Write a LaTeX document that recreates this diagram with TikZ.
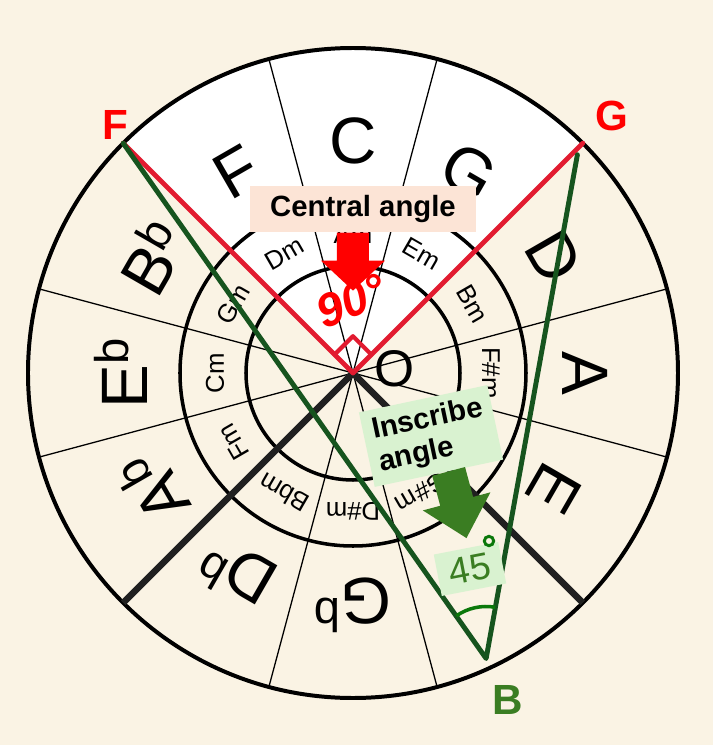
\documentclass[tikz,border=0pt]{standalone}
\usepackage{fontspec}
\setmainfont{Liberation Sans}
\usetikzlibrary{calc}
\definecolor{Cream}{RGB}{250,243,228}
\definecolor{ChordRed}{RGB}{226,27,48}
\definecolor{PureRed}{RGB}{255,0,0}
\definecolor{ChordGreen}{RGB}{22,84,30}
\definecolor{ArrowGreen}{RGB}{58,125,34}
\definecolor{MarkGreen}{RGB}{10,120,10}
\definecolor{PeachBox}{RGB}{252,228,214}
\definecolor{MintBox}{RGB}{217,242,208}
\definecolor{Ink}{RGB}{32,32,32}
\newcommand{\bsup}{\raisebox{.3em}{\scalebox{.72}{b}}}
\tikzset{
  ring/.style={line width=3pt,black},
  spoke/.style={line width=1.1pt,black},
  major/.style={font=\fontsize{56}{56}\selectfont,inner sep=0pt},
  minor/.style={font=\fontsize{22}{22}\selectfont,inner sep=0pt},
  chordR/.style={line width=4.2pt,ChordRed,line cap=round,line join=round},
  chordG/.style={line width=4.2pt,ChordGreen,line cap=round,line join=round},
  split/.style={line width=5.5pt,Ink},
  keyname/.style={font=\bfseries\fontsize{36}{36}\selectfont,inner sep=0pt},
  tag/.style={font=\bfseries\fontsize{25}{28}\selectfont,inner sep=0pt},
}

\begin{document}
\begin{tikzpicture}[x=0.03cm,y=0.03cm]
  \fill[Cream] (-353,-372) rectangle (360,373);
  \useasboundingbox (-353,-372) rectangle (360,373);

  \coordinate (O)  at (0,0);
  \coordinate (Fp) at (135:325);
  \coordinate (Gp) at (45:325);
  \coordinate (Gq) at (44.2:313);
  \coordinate (Bp) at (-65:315);

  % F, C, G sectors in white
  \fill[white] (O) -- (Gp) arc[start angle=45,end angle=135,radius=325] -- cycle;

  \draw[ring,line width=3.4pt] (O) circle[radius=325];
  \draw[ring] (O) circle[radius=173];
  \draw[ring] (O) circle[radius=107];
  \foreach \a in {15,45,...,345}
    \draw[spoke] (O) -- (\a:325);

  \foreach \a/\t in {90/C,60/G,30/D,0/A,-30/E,-90/G\bsup,-120/D\bsup,
                     -150/A\bsup,180/E\bsup,150/B\bsup,120/F}
    \node[major,rotate=\a-90] (maj\a) at (\a:232) {\t};
  \foreach \a/\t in {90/Am,60/Em,30/Bm,0/F\#m,-60/G\#m,-90/D\#m,
                     -120/Bbm,-150/Fm,180/Cm,150/Gm,120/Dm}
    \node[minor,rotate=\a-90] (min\a) at (\a:138) {\t};

  \draw[split] (O) -- (225:325);
  \draw[split] (O) -- (315:325);

  % central angle
  \draw[chordR] (Fp) -- (O) -- (Gp);
  \draw[chordR,line width=3.6pt] ($(O)+(45:26)$) -- ++(135:26) -- ($(O)+(135:26)$);

  % inscribed angle
  \draw[chordG] (Fp) -- (Bp) -- (Gq);
  \draw[MarkGreen,line width=3pt] ($(Bp)+(80:52)$) arc[start angle=80,end angle=125,radius=52];

  \node[keyname,text=PureRed] (Flab) at (-238,248) {F};
  \node[keyname,text=PureRed] (Glab) at (259,257) {G};
  \node[keyname,text=ArrowGreen] (Blab) at (155,-327) {B};
  \node[font=\fontsize{44}{44}\selectfont,inner sep=0pt] (Olab) at (42,4) {O};

  \node[tag,fill=PeachBox,minimum width=193pt,minimum height=40pt] (central)
    at (10,164) {Central angle};
  \coordinate (cTail) at (central.south -| O);
  \begin{scope}[shift={(cTail)},rotate=-90]
    \fill[PureRed] (0,-16) -- (28,-16) -- (28,-32) -- (58,0) -- (28,32)
      -- (28,16) -- (0,16) -- cycle;
  \end{scope}
  \node[text=PureRed,font=\bfseries\itshape\fontsize{40}{40}\selectfont,
        inner sep=0pt,rotate=22] (ninety) at (-2,72) {90°};

  \node[tag,fill=MintBox,minimum width=112pt,minimum height=65pt,align=left,
        rotate=12] (inscr) at (78,-63) {Inscribe\\angle};
  \coordinate (iTail) at ($(inscr.south)!0.15!(inscr.south east)$);
  \begin{scope}[shift={(iTail)},rotate=-75]
    \fill[ArrowGreen] (0,-17) -- (31,-17) -- (31,-35) -- (69,0) -- (31,35)
      -- (31,17) -- (0,17) -- cycle;
  \end{scope}

  \node[fill=MintBox,minimum width=56pt,minimum height=36pt,inner sep=0pt,
        rotate=11,text=ArrowGreen,font=\fontsize{32}{32}\selectfont]
    (ang45) at (117,-196) {45};
  \node[circle,draw=MarkGreen,line width=2.5pt,minimum size=8pt,inner sep=0pt]
    (ring45) at (136,-168) {};
\end{tikzpicture}
\end{document}
